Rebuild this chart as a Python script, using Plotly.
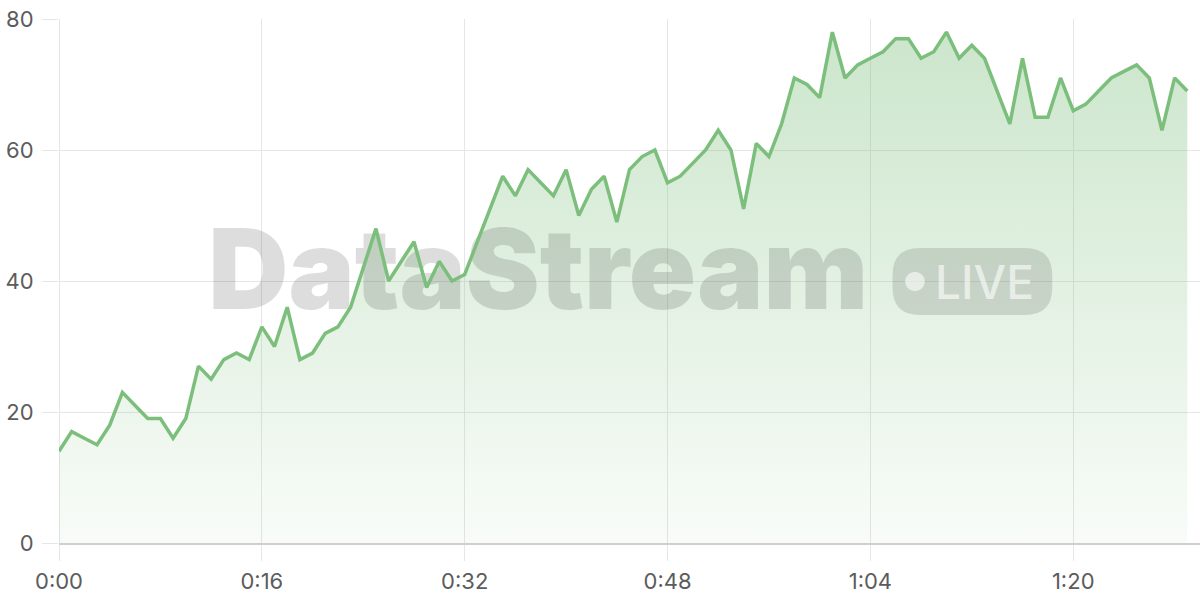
import plotly.graph_objects as go

# ---- data ----
seconds = list(range(90))
values = [14, 17, 16, 15, 18, 23, 21, 19, 19, 16,
          19, 27, 25, 28, 29, 28, 33, 30, 36, 28,
          29, 32, 33, 36, 42, 48, 40, 43, 46, 39,
          43, 40, 41, 46, 51, 56, 53, 57, 55, 53,
          57, 50, 54, 56, 49, 57, 59, 60, 55, 56,
          58, 60, 63, 60, 51, 61, 59, 64, 71, 70,
          68, 78, 71, 73, 74, 75, 77, 77, 74, 75,
          78, 74, 76, 74, 69, 64, 74, 65, 65, 71,
          66, 67, 69, 71, 72, 73, 71, 63, 71, 69]
x_tick_vals = [0, 16, 32, 48, 64, 80]
x_tick_text = ["0:00", "0:16", "0:32", "0:48", "1:04", "1:20"]
y_tick_vals = [0, 20, 40, 60, 80]

GREEN = "rgb(124,190,124)"
GRID = "#e6e6e6"
FONT = "Inter"

fig = go.Figure()

# area fill (gradient)
fig.add_trace(go.Scatter(
    x=seconds, y=values, mode="lines", line=dict(width=0, color="rgba(0,0,0,0)"),
    fill="tozeroy",
    fillgradient=dict(type="vertical", start=0, stop=80,
                      colorscale=[[0, "rgba(124,190,124,0.05)"], [1, "rgba(124,190,124,0.40)"]]),
    hoverinfo="skip", showlegend=False))

# watermark text between the fill and the line
fig.add_trace(go.Scatter(
    x=[37.8], y=[40.0], mode="text", text=["DataStream"],
    textposition="middle center",
    textfont=dict(family=FONT, size=111, color="rgba(0,0,0,0.135)", weight=900),
    hoverinfo="skip", showlegend=False))

# line
fig.add_trace(go.Scatter(
    x=seconds, y=values, mode="lines",
    line=dict(color=GREEN, width=3.5),
    hoverinfo="skip", showlegend=False))

# LIVE pill (paper coords)
x0, x1, y0, y1 = 0.7305, 0.8705, 0.435, 0.563
rx, ry = 0.024, 0.052
path = (f"M {x0+rx},{y0} L {x1-rx},{y0} Q {x1},{y0} {x1},{y0+ry} "
        f"L {x1},{y1-ry} Q {x1},{y1} {x1-rx},{y1} L {x0+rx},{y1} "
        f"Q {x0},{y1} {x0},{y1-ry} L {x0},{y0+ry} Q {x0},{y0} {x0+rx},{y0} Z")
fig.add_shape(type="path", path=path, xref="paper", yref="paper",
              fillcolor="rgba(0,0,0,0.12)", line=dict(width=0), layer="above")

fig.add_annotation(x=0.8115, y=0.499, xref="paper", yref="paper", text="LIVE",
                   showarrow=False, xanchor="center", yanchor="middle",
                   font=dict(family=FONT, size=46, color="rgba(255,255,255,0.6)", weight=500))
fig.add_annotation(x=0.7505, y=0.499, xref="paper", yref="paper", text="●",
                   showarrow=False, xanchor="center", yanchor="middle",
                   font=dict(family=FONT, size=26, color="rgba(255,255,255,0.6)"))

fig.update_layout(
    width=1200, height=600,
    margin=dict(l=59, r=0, t=19, b=57, autoexpand=False),
    paper_bgcolor="white", plot_bgcolor="white",
    font=dict(family=FONT, size=22, color="#5c5c5c"),
    showlegend=False,
)
fig.update_xaxes(
    range=[0, 90], tickvals=x_tick_vals, ticktext=x_tick_text,
    showgrid=True, gridcolor=GRID, gridwidth=1.2,
    zeroline=True, zerolinecolor=GRID, zerolinewidth=1.2,
    showline=True, linecolor="#cfcfcf", linewidth=1.6,
    ticks="outside", ticklen=16, tickcolor=GRID, tickwidth=1.2,
    ticklabelstandoff=2, automargin=False, fixedrange=True)
fig.update_yaxes(
    range=[0, 80], tickvals=y_tick_vals,
    showgrid=True, gridcolor=GRID, gridwidth=1.2, zeroline=False,
    ticks="outside", ticklen=16, tickcolor=GRID, tickwidth=1.2,
    ticklabelstandoff=4, automargin=False, fixedrange=True)

fig.write_html("out.html", config={"displayModeBar": False},
               post_script="document.body.style.margin='0';document.body.style.overflow='hidden';")
